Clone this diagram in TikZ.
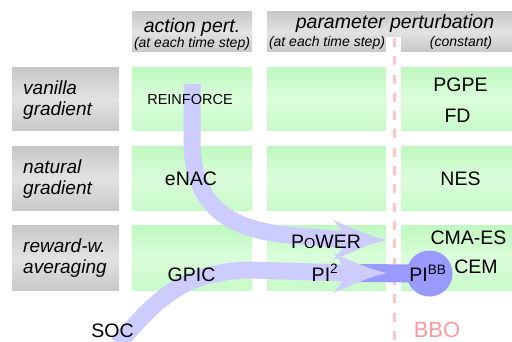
\documentclass[tikz,border=0pt]{standalone}
\usepackage{fontspec}
\setmainfont{Liberation Sans}
\definecolor{bandlight}{HTML}{CCCCFF}
\definecolor{banddark}{HTML}{9999FF}
\definecolor{bboline}{HTML}{FFC4C4}
\definecolor{bbotext}{HTML}{FF9A9A}
\definecolor{graytop}{HTML}{C8C8C8}
\definecolor{graymid}{HTML}{E2E2E2}
\definecolor{greentop}{HTML}{C0F8C0}
\definecolor{greenmid}{HTML}{DAFDDA}
\tikzset{
  graybox/.style={top color=graytop, bottom color=graytop, middle color=graymid},
  cellbox/.style={top color=greentop, bottom color=greentop!70!greenmid, middle color=greenmid},
  hdr/.style={font=\fontsize{19.5}{22}\selectfont\itshape, inner sep=0pt, anchor=base},
  hdrsmall/.style={font=\fontsize{14}{16}\selectfont\itshape, inner sep=0pt, anchor=base},
  rowlabel/.style={font=\fontsize{19}{21}\selectfont\itshape, inner sep=0pt, anchor=base west, align=left},
  method/.style={font=\fontsize{19.5}{22}\selectfont, inner sep=0pt, anchor=base},
  band/.style={draw=bandlight, line width=17pt, line cap=butt},
  pics/bandhead/.style={code={
    \fill[bandlight] (0,0) .. controls (-15,-2) and (-38,-13) .. (-55,-20)
      .. controls (-48,-13) and (-44,-6) .. (-42,0)
      .. controls (-44,6) and (-48,13) .. (-55,20)
      .. controls (-38,13) and (-15,2) .. (0,0) -- cycle;}}
}
\begin{document}
\begin{tikzpicture}[x=1pt,y=-1pt]
\useasboundingbox (0,0) rectangle (512,342);
\clip (0,0) rectangle (512,342);

% column headers
\path[graybox] (132,12) rectangle (252,52);
\path[graybox] (267,12) rectangle (512,52);
\fill[white] (386,37) rectangle (401,52);

% row labels
\path[graybox] (12,68) rectangle (119,131);
\path[graybox] (12,147) rectangle (119,211);
\path[graybox] (12,226) rectangle (119,290);

% method cells
\foreach \y/\yy in {68/131,147/211,226/290}{
  \path[cellbox] (132,\y) rectangle (252,\yy);
  \path[cellbox] (267,\y) rectangle (386,\yy);
  \path[cellbox] (401,\y) rectangle (512,\yy);
}

% black-box optimisation boundary
\coordinate (bbotop) at (394,38);
\coordinate (bbobot) at (394,342);
\draw[bboline, line width=3pt, dash pattern=on 9pt off 9.3pt] (bbotop) -- (bbobot);

% PI^BB marker and its link
\coordinate (pitwotip) at (388,273);
\node[circle, fill=banddark, minimum size=46pt, inner sep=0pt] (pibb) at (429.5,273.5) {};
\draw[banddark, line width=18pt] ([xshift=-40pt]pitwotip) -- (pibb.center);

% REINFORCE -> PoWER
\coordinate (reinforcetop) at (192,84);
\coordinate (powertip) at (388,240);
\draw[band] (reinforcetop) -- (192,140) .. controls (192,215) and (240,232) .. (300,236) -- ([xshift=-42pt]powertip);
\pic at (powertip) {bandhead};

% SOC -> PI^2
\coordinate (socfoot) at (118,344);
\draw[band] (socfoot) .. controls (160,295) and (185,272) .. (250,270) -- ([xshift=-42pt]pitwotip);
\pic at (pitwotip) {bandhead};

% header texts
\node[hdr] (hact) at (192,33) {action pert.};
\node[hdrsmall] (hacts) at (192,48) {(at each time step)};
\node[hdr] (hpar) at (395,29) {parameter perturbation};
\node[hdrsmall] (hpars) at (327,47) {(at each time step)};
\node[hdrsmall] (hconst) at (461,47) {(constant)};

% row label texts (base anchor sits on the second line)
\node[rowlabel] (rvan) at (23,115.5) {vanilla\\gradient};
\node[rowlabel] (rnat) at (23,194.5) {natural\\gradient};
\node[rowlabel] (rrew) at (23,273.5) {reward-w.\\averaging};

% method names
\node[method, font=\fontsize{14.5}{16}\selectfont] (reinforce) at (190,105) {REINFORCE};
\node[method] (pgpe) at (460.5,92) {PGPE};
\node[method] (fd) at (457.5,123) {FD};
\node[method] (enac) at (191,186) {eNAC};
\node[method] (nes) at (460.5,186) {NES};
\node[method] (cmaes) at (468.5,245) {CMA-ES};
\node[method] (cem) at (476,273) {CEM};
\node[method] (power) at (326,248) {P{\fontsize{14.5}{16}\selectfont O}WER};
\node[method] (pitwo) at (325,281) {PI\textsuperscript{2}};
\node[method] (pibbtext) at (428,282) {PI\textsuperscript{BB}};
\node[method] (gpic) at (191.5,281) {GPIC};
\node[method] (soc) at (112.5,337) {SOC};
\node[method, font=\fontsize{22}{24}\selectfont, text=bbotext] (bbo) at (437,337) {BBO};
\end{tikzpicture}
\end{document}
